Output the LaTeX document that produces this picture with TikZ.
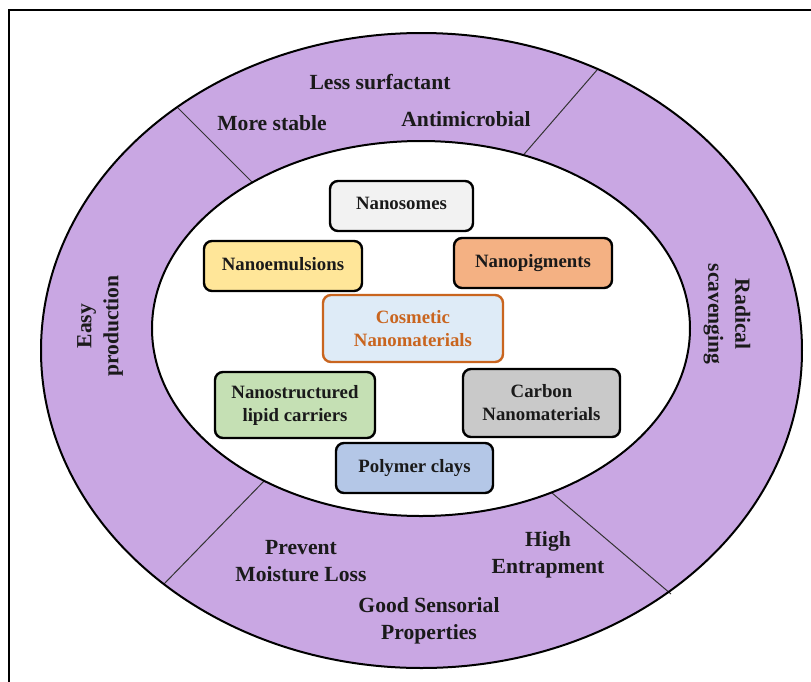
\documentclass[tikz,border=0pt]{standalone}
\usepackage{fontspec}
\setmainfont{Liberation Serif}
\definecolor{ringpurple}{HTML}{C9A7E3}
\definecolor{cosorange}{HTML}{C9651F}
\definecolor{txt}{HTML}{1A1A1A}
\definecolor{fsomes}{HTML}{F2F2F2}
\definecolor{femul}{HTML}{FFE699}
\definecolor{fpig}{HTML}{F4B183}
\definecolor{fcos}{HTML}{DEEBF7}
\definecolor{fnlc}{HTML}{C5E0B4}
\definecolor{fcarbon}{HTML}{C9C9C9}
\definecolor{fpoly}{HTML}{B4C7E7}
\begin{document}
\begin{tikzpicture}[x=0.5pt,y=-0.5pt,
  box/.style={draw=black, line width=1.2pt, rounded corners=4pt, inner sep=0pt,
    align=center, text=txt, font=\fontsize{9.4}{11.5}\selectfont\bfseries},
  ringtext/.style={align=center, text=txt, inner sep=0pt,
    font=\fontsize{10.8}{13.5}\selectfont\bfseries},
  divider/.style={draw=black!80, line width=0.5pt}]
\useasboundingbox (0,0) rectangle (811,682);
% frame
\draw[line width=1pt] (8.5,682) -- (8.5,9.5) -- (811,9.5);
% ring
\fill[ringpurple] (421.5,350.5) ellipse [x radius=380.5, y radius=317.5];
\coordinate (d1o) at (177,107); \coordinate (d1i) at (260,190);
\coordinate (d2o) at (597,70);  \coordinate (d2i) at (513,167);
\coordinate (d3o) at (164,584); \coordinate (d3i) at (267,478);
\coordinate (d4o) at (671,594); \coordinate (d4i) at (545,487);
\draw[divider] (d1o) -- (d1i);
\draw[divider] (d2o) -- (d2i);
\draw[divider] (d3o) -- (d3i);
\draw[divider] (d4o) -- (d4i);
\draw[fill=white, line width=1pt] (421,328.5) ellipse [x radius=269, y radius=187.5];
\draw[line width=1pt] (421.5,350.5) ellipse [x radius=380.5, y radius=317.5];
% ring texts
\node[ringtext] (less) at (380,82) {Less surfactant};
\node[ringtext] (stable) at (272,123) {More stable};
\node[ringtext] (anti) at (466,119) {Antimicrobial};
\node[ringtext, rotate=90] (easy) at (100,326) {Easy\\production};
\node[ringtext, rotate=-90] (radical) at (727,314) {Radical\\scavenging};
\node[ringtext] (prevent) at (301,561) {Prevent\\Moisture Loss};
\node[ringtext] (high) at (548,555) {High\\Entrapment};
\node[ringtext] (good) at (429,621) {Good Sensorial\\Properties};
% boxes
\node[box, fill=fsomes, minimum width=71.5pt, minimum height=25pt] (somes) at (401.5,206) {\raisebox{2.5pt}{Nanosomes}};
\node[box, fill=femul, minimum width=79pt, minimum height=25pt] (emul) at (283,266) {\raisebox{2.5pt}{Nanoemulsions}};
\node[box, fill=fpig, minimum width=79pt, minimum height=25pt] (pig) at (533,263) {\raisebox{2.5pt}{Nanopigments}};
\node[box, draw=cosorange, text=cosorange, fill=fcos, minimum width=90pt, minimum height=33.5pt] (cos) at (413,328.5) {Cosmetic\\Nanomaterials};
\node[box, fill=fnlc, minimum width=80pt, minimum height=33pt] (nlc) at (295,405) {Nanostructured\\lipid carriers};
\node[box, fill=fcarbon, minimum width=78.5pt, minimum height=34pt] (carbon) at (541.5,403) {Carbon\\Nanomaterials};
\node[box, fill=fpoly, minimum width=78.5pt, minimum height=25pt] (poly) at (414.5,468) {\raisebox{2.5pt}{Polymer clays}};
\end{tikzpicture}
\end{document}
